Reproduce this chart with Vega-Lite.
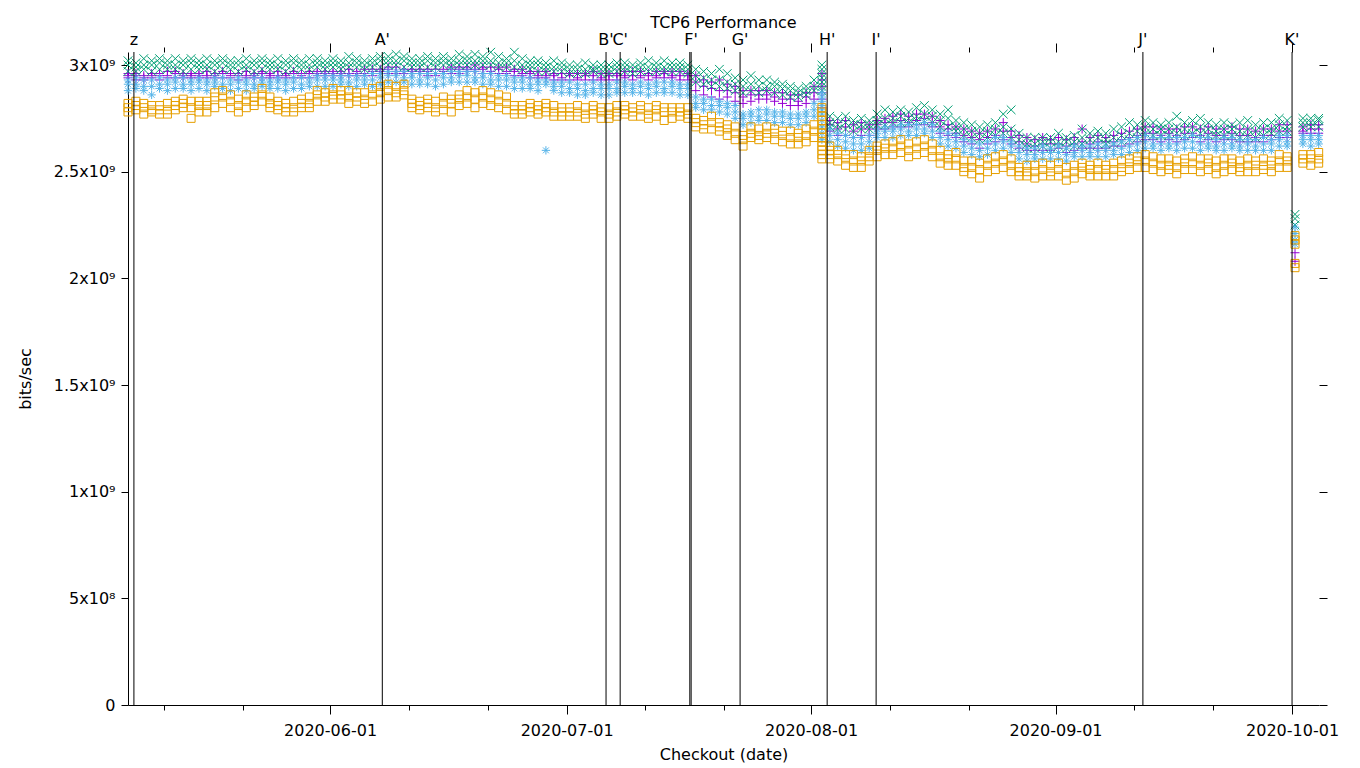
{
"$schema": "https://vega.github.io/schema/vega-lite/v6.json",
"width": 1191, "height": 653,
"autosize": {"type": "none"},
"padding": {"left": 128, "top": 52, "right": 41, "bottom": 63},
"background": "white",
"title": {"text": "TCP6 Performance", "fontSize": 16, "fontWeight": "normal", "font": "DejaVu Sans", "color": "black", "offset": 1},
"config": {"view": {"stroke": null}, "font": "DejaVu Sans",
  "axis": {"labelFont": "DejaVu Sans", "titleFont": "DejaVu Sans", "labelFontSize": 16, "titleFontSize": 16, "titleFontWeight": "normal", "labelColor": "black", "titleColor": "black", "tickColor": "black", "domainColor": "black", "grid": false, "labelFlush": false, "labelOverlap": false, "labelBound": false}},
"datasets": {
"runs": [
{"d":"2020-05-06T09:00Z","s1":[2.96e9,2.95e9,2.94e9],"s2":[3.02e9,3.00e9,2.97e9],"s3":[2.93e9,2.91e9,2.88e9],"s4":[2.82e9,2.80e9,2.78e9]},
{"d":"2020-05-07T09:00Z","s1":[2.96e9,2.95e9,2.93e9],"s2":[3.01e9,2.99e9,2.97e9],"s3":[2.94e9,2.91e9,2.89e9],"s4":[2.83e9,2.81e9,2.79e9]},
{"d":"2020-05-08T09:00Z","s1":[2.95e9,2.94e9,2.93e9],"s2":[3.03e9,3.00e9,2.98e9],"s3":[2.93e9,2.90e9,2.88e9],"s4":[2.82e9,2.80e9,2.77e9]},
{"d":"2020-05-09T09:00Z","s1":[2.96e9,2.95e9,2.94e9],"s2":[3.02e9,3.00e9,2.97e9],"s3":[2.93e9,2.90e9,2.86e9],"s4":[2.81e9,2.79e9,2.78e9]},
{"d":"2020-05-10T09:00Z","s1":[2.96e9,2.95e9,2.93e9],"s2":[3.03e9,3.01e9,2.98e9],"s3":[2.94e9,2.91e9,2.89e9],"s4":[2.81e9,2.79e9,2.77e9]},
{"d":"2020-05-11T09:00Z","s1":[2.97e9,2.95e9,2.94e9],"s2":[3.02e9,3.00e9,2.98e9],"s3":[2.93e9,2.91e9,2.88e9],"s4":[2.82e9,2.79e9,2.77e9]},
{"d":"2020-05-12T09:00Z","s1":[2.97e9,2.96e9,2.94e9],"s2":[3.03e9,3.00e9,2.98e9],"s3":[2.94e9,2.92e9,2.89e9],"s4":[2.83e9,2.81e9,2.79e9]},
{"d":"2020-05-13T09:00Z","s1":[2.96e9,2.95e9,2.94e9],"s2":[3.02e9,3.00e9,2.97e9],"s3":[2.94e9,2.91e9,2.89e9],"s4":[2.84e9,2.82e9,2.80e9]},
{"d":"2020-05-14T09:00Z","s1":[2.96e9,2.95e9,2.94e9],"s2":[3.03e9,3.01e9,2.98e9],"s3":[2.93e9,2.91e9,2.88e9],"s4":[2.83e9,2.80e9,2.75e9]},
{"d":"2020-05-15T09:00Z","s1":[2.96e9,2.95e9,2.94e9],"s2":[3.02e9,3.00e9,2.98e9],"s3":[2.94e9,2.92e9,2.89e9],"s4":[2.83e9,2.81e9,2.78e9]},
{"d":"2020-05-16T09:00Z","s1":[2.97e9,2.95e9,2.94e9],"s2":[3.03e9,3.00e9,2.98e9],"s3":[2.93e9,2.91e9,2.88e9],"s4":[2.83e9,2.81e9,2.78e9]},
{"d":"2020-05-17T09:00Z","s1":[2.96e9,2.95e9,2.94e9],"s2":[3.02e9,3.00e9,2.97e9],"s3":[2.94e9,2.92e9,2.90e9],"s4":[2.87e9,2.85e9,2.80e9]},
{"d":"2020-05-18T09:00Z","s1":[2.97e9,2.96e9,2.94e9],"s2":[3.03e9,3.01e9,2.98e9],"s3":[2.94e9,2.91e9,2.89e9],"s4":[2.88e9,2.85e9,2.82e9]},
{"d":"2020-05-19T09:00Z","s1":[2.96e9,2.95e9,2.94e9],"s2":[3.02e9,3.00e9,2.98e9],"s3":[2.93e9,2.91e9,2.88e9],"s4":[2.86e9,2.83e9,2.80e9]},
{"d":"2020-05-20T09:00Z","s1":[2.96e9,2.95e9,2.93e9],"s2":[3.02e9,3.00e9,2.97e9],"s3":[2.94e9,2.92e9,2.89e9],"s4":[2.84e9,2.81e9,2.78e9]},
{"d":"2020-05-21T09:00Z","s1":[2.97e9,2.95e9,2.94e9],"s2":[3.03e9,3.00e9,2.98e9],"s3":[2.93e9,2.91e9,2.88e9],"s4":[2.86e9,2.83e9,2.80e9]},
{"d":"2020-05-22T09:00Z","s1":[2.96e9,2.95e9,2.94e9],"s2":[3.02e9,3.00e9,2.97e9],"s3":[2.94e9,2.91e9,2.89e9],"s4":[2.85e9,2.83e9,2.81e9]},
{"d":"2020-05-23T09:00Z","s1":[2.97e9,2.96e9,2.94e9],"s2":[3.03e9,3.01e9,2.98e9],"s3":[2.94e9,2.92e9,2.90e9],"s4":[2.89e9,2.86e9,2.83e9]},
{"d":"2020-05-24T09:00Z","s1":[2.96e9,2.95e9,2.94e9],"s2":[3.02e9,3.00e9,2.98e9],"s3":[2.93e9,2.91e9,2.89e9],"s4":[2.85e9,2.82e9,2.80e9]},
{"d":"2020-05-25T09:00Z","s1":[2.97e9,2.95e9,2.94e9],"s2":[3.03e9,3.00e9,2.98e9],"s3":[2.94e9,2.92e9,2.89e9],"s4":[2.83e9,2.81e9,2.79e9]},
{"d":"2020-05-26T09:00Z","s1":[2.96e9,2.95e9,2.94e9],"s2":[3.02e9,3.00e9,2.97e9],"s3":[2.93e9,2.91e9,2.88e9],"s4":[2.82e9,2.80e9,2.78e9]},
{"d":"2020-05-27T09:00Z","s1":[2.97e9,2.96e9,2.94e9],"s2":[3.03e9,3.01e9,2.98e9],"s3":[2.94e9,2.92e9,2.89e9],"s4":[2.83e9,2.80e9,2.78e9]},
{"d":"2020-05-28T09:00Z","s1":[2.96e9,2.95e9,2.94e9],"s2":[3.02e9,3.00e9,2.98e9],"s3":[2.94e9,2.91e9,2.89e9],"s4":[2.84e9,2.82e9,2.80e9]},
{"d":"2020-05-29T09:00Z","s1":[2.97e9,2.96e9,2.94e9],"s2":[3.03e9,3.00e9,2.98e9],"s3":[2.94e9,2.92e9,2.90e9],"s4":[2.85e9,2.82e9,2.80e9]},
{"d":"2020-05-30T09:00Z","s1":[2.97e9,2.96e9,2.95e9],"s2":[3.03e9,3.01e9,2.99e9],"s3":[2.95e9,2.93e9,2.90e9],"s4":[2.88e9,2.86e9,2.83e9]},
{"d":"2020-05-31T09:00Z","s1":[2.97e9,2.96e9,2.95e9],"s2":[3.02e9,3.00e9,2.98e9],"s3":[2.95e9,2.93e9,2.90e9],"s4":[2.87e9,2.85e9,2.83e9]},
{"d":"2020-06-01T09:00Z","s1":[2.97e9,2.96e9,2.95e9],"s2":[3.03e9,3.01e9,2.99e9],"s3":[2.95e9,2.93e9,2.90e9],"s4":[2.89e9,2.86e9,2.84e9]},
{"d":"2020-06-02T09:00Z","s1":[2.97e9,2.96e9,2.95e9],"s2":[3.02e9,3.00e9,2.98e9],"s3":[2.95e9,2.93e9,2.91e9],"s4":[2.88e9,2.86e9,2.84e9]},
{"d":"2020-06-03T09:00Z","s1":[2.98e9,2.96e9,2.95e9],"s2":[3.04e9,3.01e9,2.99e9],"s3":[2.95e9,2.92e9,2.90e9],"s4":[2.88e9,2.85e9,2.82e9]},
{"d":"2020-06-04T09:00Z","s1":[2.97e9,2.96e9,2.95e9],"s2":[3.03e9,3.01e9,2.99e9],"s3":[2.95e9,2.93e9,2.90e9],"s4":[2.87e9,2.85e9,2.83e9]},
{"d":"2020-06-05T09:00Z","s1":[2.98e9,2.96e9,2.95e9],"s2":[3.02e9,3.00e9,2.98e9],"s3":[2.95e9,2.93e9,2.91e9],"s4":[2.87e9,2.84e9,2.82e9]},
{"d":"2020-06-06T09:00Z","s1":[2.98e9,2.97e9,2.95e9],"s2":[3.03e9,3.01e9,2.99e9],"s3":[2.96e9,2.93e9,2.90e9],"s4":[2.89e9,2.86e9,2.83e9]},
{"d":"2020-06-07T09:00Z","s1":[2.98e9,2.97e9,2.96e9],"s2":[3.04e9,3.02e9,2.99e9],"s3":[2.96e9,2.94e9,2.91e9],"s4":[2.90e9,2.87e9,2.84e9]},
{"d":"2020-06-08T09:00Z","s1":[2.99e9,2.98e9,2.96e9],"s2":[3.04e9,3.02e9,3.00e9],"s3":[2.97e9,2.95e9,2.92e9],"s4":[2.91e9,2.88e9,2.85e9]},
{"d":"2020-06-09T09:00Z","s1":[2.99e9,2.97e9,2.96e9],"s2":[3.05e9,3.02e9,3.00e9],"s3":[2.97e9,2.95e9,2.92e9],"s4":[2.90e9,2.87e9,2.85e9]},
{"d":"2020-06-10T09:00Z","s1":[2.98e9,2.97e9,2.96e9],"s2":[3.04e9,3.02e9,2.99e9],"s3":[2.97e9,2.94e9,2.92e9],"s4":[2.91e9,2.88e9,2.86e9]},
{"d":"2020-06-11T09:00Z","s1":[2.98e9,2.97e9,2.96e9],"s2":[3.03e9,3.01e9,2.99e9],"s3":[2.96e9,2.94e9,2.91e9],"s4":[2.84e9,2.82e9,2.80e9]},
{"d":"2020-06-12T09:00Z","s1":[2.98e9,2.97e9,2.96e9],"s2":[3.03e9,3.01e9,2.99e9],"s3":[2.96e9,2.93e9,2.91e9],"s4":[2.83e9,2.81e9,2.79e9]},
{"d":"2020-06-13T09:00Z","s1":[2.98e9,2.97e9,2.95e9],"s2":[3.04e9,3.02e9,2.99e9],"s3":[2.96e9,2.94e9,2.91e9],"s4":[2.84e9,2.82e9,2.80e9]},
{"d":"2020-06-14T09:00Z","s1":[2.98e9,2.96e9,2.95e9],"s2":[3.03e9,3.01e9,2.99e9],"s3":[2.96e9,2.93e9,2.90e9],"s4":[2.83e9,2.80e9,2.78e9]},
{"d":"2020-06-15T09:00Z","s1":[2.98e9,2.97e9,2.96e9],"s2":[3.04e9,3.02e9,3.00e9],"s3":[2.96e9,2.94e9,2.91e9],"s4":[2.85e9,2.82e9,2.79e9]},
{"d":"2020-06-16T09:00Z","s1":[2.99e9,2.98e9,2.96e9],"s2":[3.03e9,3.01e9,2.99e9],"s3":[2.97e9,2.94e9,2.92e9],"s4":[2.84e9,2.82e9,2.78e9]},
{"d":"2020-06-17T09:00Z","s1":[2.99e9,2.98e9,2.96e9],"s2":[3.05e9,3.02e9,3.00e9],"s3":[2.97e9,2.95e9,2.92e9],"s4":[2.86e9,2.84e9,2.81e9]},
{"d":"2020-06-18T09:00Z","s1":[2.99e9,2.98e9,2.97e9],"s2":[3.04e9,3.02e9,3.00e9],"s3":[2.97e9,2.95e9,2.92e9],"s4":[2.88e9,2.85e9,2.82e9]},
{"d":"2020-06-19T09:00Z","s1":[3.00e9,2.98e9,2.97e9],"s2":[3.05e9,3.02e9,3.00e9],"s3":[2.97e9,2.94e9,2.92e9],"s4":[2.87e9,2.84e9,2.80e9]},
{"d":"2020-06-20T09:00Z","s1":[2.99e9,2.98e9,2.96e9],"s2":[3.04e9,3.02e9,3.00e9],"s3":[2.96e9,2.94e9,2.91e9],"s4":[2.88e9,2.85e9,2.82e9]},
{"d":"2020-06-21T09:00Z","s1":[2.99e9,2.97e9,2.96e9],"s2":[3.06e9,3.02e9,3.00e9],"s3":[2.96e9,2.93e9,2.91e9],"s4":[2.87e9,2.84e9,2.81e9]},
{"d":"2020-06-22T09:00Z","s1":[2.99e9,2.98e9,2.96e9],"s2":[3.04e9,3.01e9,2.99e9],"s3":[2.95e9,2.93e9,2.90e9],"s4":[2.86e9,2.83e9,2.80e9]},
{"d":"2020-06-23T09:00Z","s1":[2.99e9,2.97e9,2.96e9],"s2":[3.03e9,3.01e9,2.99e9],"s3":[2.95e9,2.93e9,2.90e9],"s4":[2.85e9,2.82e9,2.79e9]},
{"d":"2020-06-24T09:00Z","s1":[2.98e9,2.97e9,2.95e9],"s2":[3.06e9,3.02e9,2.99e9],"s3":[2.94e9,2.92e9,2.89e9],"s4":[2.81e9,2.79e9,2.77e9]},
{"d":"2020-06-25T09:00Z","s1":[2.98e9,2.96e9,2.95e9],"s2":[3.03e9,3.00e9,2.98e9],"s3":[2.94e9,2.92e9,2.89e9],"s4":[2.81e9,2.79e9,2.77e9]},
{"d":"2020-06-26T09:00Z","s1":[2.97e9,2.96e9,2.94e9],"s2":[3.02e9,3.00e9,2.98e9],"s3":[2.94e9,2.91e9,2.89e9],"s4":[2.82e9,2.80e9,2.78e9]},
{"d":"2020-06-27T09:00Z","s1":[2.97e9,2.95e9,2.94e9],"s2":[3.02e9,3.00e9,2.97e9],"s3":[2.93e9,2.91e9,2.88e9],"s4":[2.81e9,2.79e9,2.77e9]},
{"d":"2020-06-28T09:00Z","s1":[2.97e9,2.95e9,2.94e9],"s2":[3.01e9,2.99e9,2.97e9],"s3":[2.93e9,2.91e9,2.60e9],"s4":[2.82e9,2.80e9,2.78e9]},
{"d":"2020-06-29T09:00Z","s1":[2.96e9,2.95e9,2.93e9],"s2":[3.02e9,2.99e9,2.97e9],"s3":[2.92e9,2.90e9,2.88e9],"s4":[2.81e9,2.78e9,2.76e9]},
{"d":"2020-06-30T09:00Z","s1":[2.96e9,2.94e9,2.93e9],"s2":[3.01e9,2.99e9,2.97e9],"s3":[2.92e9,2.90e9,2.87e9],"s4":[2.80e9,2.78e9,2.76e9]},
{"d":"2020-07-01T09:00Z","s1":[2.96e9,2.95e9,2.93e9],"s2":[3.00e9,2.98e9,2.96e9],"s3":[2.92e9,2.89e9,2.87e9],"s4":[2.80e9,2.78e9,2.76e9]},
{"d":"2020-07-02T09:00Z","s1":[2.96e9,2.94e9,2.93e9],"s2":[3.00e9,2.98e9,2.96e9],"s3":[2.91e9,2.89e9,2.86e9],"s4":[2.81e9,2.78e9,2.76e9]},
{"d":"2020-07-03T09:00Z","s1":[2.96e9,2.95e9,2.93e9],"s2":[3.01e9,2.98e9,2.96e9],"s3":[2.91e9,2.88e9,2.86e9],"s4":[2.80e9,2.77e9,2.75e9]},
{"d":"2020-07-04T09:00Z","s1":[2.97e9,2.95e9,2.93e9],"s2":[3.00e9,2.98e9,2.97e9],"s3":[2.92e9,2.89e9,2.87e9],"s4":[2.81e9,2.79e9,2.77e9]},
{"d":"2020-07-05T09:00Z","s1":[2.96e9,2.94e9,2.93e9],"s2":[3.00e9,2.98e9,2.96e9],"s3":[2.91e9,2.89e9,2.86e9],"s4":[2.80e9,2.78e9,2.75e9]},
{"d":"2020-07-06T09:00Z","s1":[2.96e9,2.95e9,2.93e9],"s2":[3.00e9,2.98e9,2.96e9],"s3":[2.91e9,2.89e9,2.86e9],"s4":[2.80e9,2.77e9,2.75e9]},
{"d":"2020-07-07T09:00Z","s1":[2.96e9,2.95e9,2.93e9],"s2":[3.01e9,2.99e9,2.97e9],"s3":[2.92e9,2.89e9,2.87e9],"s4":[2.81e9,2.78e9,2.76e9]},
{"d":"2020-07-08T09:00Z","s1":[2.97e9,2.95e9,2.94e9],"s2":[3.01e9,2.99e9,2.97e9],"s3":[2.92e9,2.90e9,2.87e9],"s4":[2.81e9,2.79e9,2.77e9]},
{"d":"2020-07-09T09:00Z","s1":[2.97e9,2.95e9,2.93e9],"s2":[3.00e9,2.98e9,2.96e9],"s3":[2.91e9,2.89e9,2.87e9],"s4":[2.80e9,2.78e9,2.76e9]},
{"d":"2020-07-10T09:00Z","s1":[2.97e9,2.95e9,2.94e9],"s2":[3.01e9,2.99e9,2.97e9],"s3":[2.92e9,2.90e9,2.87e9],"s4":[2.81e9,2.79e9,2.76e9]},
{"d":"2020-07-11T09:00Z","s1":[2.96e9,2.95e9,2.93e9],"s2":[3.02e9,2.99e9,2.97e9],"s3":[2.91e9,2.89e9,2.86e9],"s4":[2.80e9,2.77e9,2.75e9]},
{"d":"2020-07-12T09:00Z","s1":[2.97e9,2.95e9,2.94e9],"s2":[3.01e9,2.99e9,2.97e9],"s3":[2.92e9,2.90e9,2.87e9],"s4":[2.81e9,2.79e9,2.76e9]},
{"d":"2020-07-13T09:00Z","s1":[2.97e9,2.96e9,2.94e9],"s2":[3.02e9,2.99e9,2.97e9],"s3":[2.92e9,2.89e9,2.87e9],"s4":[2.80e9,2.78e9,2.74e9]},
{"d":"2020-07-14T09:00Z","s1":[2.97e9,2.95e9,2.94e9],"s2":[3.01e9,2.99e9,2.97e9],"s3":[2.92e9,2.90e9,2.87e9],"s4":[2.80e9,2.78e9,2.75e9]},
{"d":"2020-07-15T09:00Z","s1":[2.97e9,2.95e9,2.93e9],"s2":[3.01e9,2.99e9,2.97e9],"s3":[2.91e9,2.89e9,2.86e9],"s4":[2.80e9,2.78e9,2.76e9]},
{"d":"2020-07-16T09:00Z","s1":[2.96e9,2.95e9,2.93e9],"s2":[3.00e9,2.98e9,2.96e9],"s3":[2.91e9,2.89e9,2.86e9],"s4":[2.80e9,2.77e9,2.75e9]},
{"d":"2020-07-17T09:00Z","s1":[2.95e9,2.92e9,2.88e9],"s2":[2.98e9,2.95e9,2.92e9],"s3":[2.85e9,2.82e9,2.80e9],"s4":[2.75e9,2.73e9,2.71e9]},
{"d":"2020-07-18T09:00Z","s1":[2.93e9,2.90e9,2.86e9],"s2":[2.97e9,2.94e9,2.91e9],"s3":[2.84e9,2.82e9,2.79e9],"s4":[2.74e9,2.72e9,2.70e9]},
{"d":"2020-07-19T09:00Z","s1":[2.92e9,2.89e9,2.85e9],"s2":[2.96e9,2.93e9,2.90e9],"s3":[2.84e9,2.81e9,2.79e9],"s4":[2.76e9,2.73e9,2.70e9]},
{"d":"2020-07-20T09:00Z","s1":[2.93e9,2.88e9,2.84e9],"s2":[2.98e9,2.93e9,2.90e9],"s3":[2.83e9,2.81e9,2.78e9],"s4":[2.73e9,2.71e9,2.69e9]},
{"d":"2020-07-21T09:00Z","s1":[2.91e9,2.88e9,2.85e9],"s2":[2.96e9,2.92e9,2.89e9],"s3":[2.82e9,2.80e9,2.77e9],"s4":[2.72e9,2.70e9,2.67e9]},
{"d":"2020-07-22T09:00Z","s1":[2.90e9,2.87e9,2.83e9],"s2":[2.94e9,2.91e9,2.88e9],"s3":[2.81e9,2.78e9,2.75e9],"s4":[2.71e9,2.68e9,2.65e9]},
{"d":"2020-07-23T09:00Z","s1":[2.88e9,2.85e9,2.82e9],"s2":[2.93e9,2.90e9,2.87e9],"s3":[2.77e9,2.75e9,2.72e9],"s4":[2.67e9,2.65e9,2.62e9]},
{"d":"2020-07-24T09:00Z","s1":[2.88e9,2.86e9,2.83e9],"s2":[2.95e9,2.91e9,2.88e9],"s3":[2.78e9,2.76e9,2.73e9],"s4":[2.71e9,2.68e9,2.66e9]},
{"d":"2020-07-25T09:00Z","s1":[2.88e9,2.86e9,2.84e9],"s2":[2.93e9,2.90e9,2.87e9],"s3":[2.79e9,2.76e9,2.74e9],"s4":[2.70e9,2.67e9,2.65e9]},
{"d":"2020-07-26T09:00Z","s1":[2.88e9,2.86e9,2.84e9],"s2":[2.93e9,2.90e9,2.88e9],"s3":[2.79e9,2.77e9,2.74e9],"s4":[2.71e9,2.68e9,2.66e9]},
{"d":"2020-07-27T09:00Z","s1":[2.87e9,2.85e9,2.83e9],"s2":[2.92e9,2.90e9,2.87e9],"s3":[2.78e9,2.76e9,2.73e9],"s4":[2.70e9,2.68e9,2.65e9]},
{"d":"2020-07-28T09:00Z","s1":[2.87e9,2.84e9,2.82e9],"s2":[2.91e9,2.89e9,2.86e9],"s3":[2.78e9,2.76e9,2.73e9],"s4":[2.69e9,2.67e9,2.64e9]},
{"d":"2020-07-29T09:00Z","s1":[2.86e9,2.84e9,2.81e9],"s2":[2.90e9,2.88e9,2.85e9],"s3":[2.77e9,2.75e9,2.72e9],"s4":[2.69e9,2.66e9,2.63e9]},
{"d":"2020-07-30T09:00Z","s1":[2.86e9,2.83e9,2.81e9],"s2":[2.89e9,2.87e9,2.85e9],"s3":[2.77e9,2.75e9,2.72e9],"s4":[2.68e9,2.66e9,2.63e9]},
{"d":"2020-07-31T09:00Z","s1":[2.87e9,2.85e9,2.82e9],"s2":[2.90e9,2.88e9,2.86e9],"s3":[2.78e9,2.76e9,2.73e9],"s4":[2.70e9,2.67e9,2.64e9]},
{"d":"2020-08-01T09:00Z","s1":[2.90e9,2.87e9,2.84e9],"s2":[2.93e9,2.90e9,2.88e9],"s3":[2.82e9,2.79e9,2.76e9],"s4":[2.72e9,2.69e9,2.66e9]},
{"d":"2020-08-02T09:00Z","s1":[2.96e9,2.93e9,2.90e9,2.87e9,2.84e9,2.80e9],"s2":[3.00e9,2.98e9,2.96e9,2.94e9,2.92e9,2.90e9,2.88e9],"s3":[2.87e9,2.85e9,2.83e9,2.81e9,2.79e9,2.77e9,2.74e9,2.71e9,2.68e9,2.65e9],"s4":[2.80e9,2.78e9,2.76e9,2.74e9,2.72e9,2.70e9,2.68e9,2.66e9,2.64e9,2.62e9,2.60e9,2.58e9,2.56e9]},
{"d":"2020-08-03T09:00Z","s1":[2.74e9,2.72e9,2.69e9],"s2":[2.76e9,2.73e9,2.71e9],"s3":[2.70e9,2.67e9,2.64e9],"s4":[2.62e9,2.60e9,2.58e9,2.56e9]},
{"d":"2020-08-04T09:00Z","s1":[2.73e9,2.70e9,2.67e9],"s2":[2.75e9,2.72e9,2.70e9],"s3":[2.68e9,2.65e9,2.62e9],"s4":[2.60e9,2.58e9,2.55e9]},
{"d":"2020-08-05T09:00Z","s1":[2.74e9,2.71e9,2.67e9],"s2":[2.76e9,2.73e9,2.70e9],"s3":[2.67e9,2.64e9,2.61e9],"s4":[2.58e9,2.56e9,2.53e9]},
{"d":"2020-08-06T09:00Z","s1":[2.72e9,2.69e9,2.66e9],"s2":[2.74e9,2.72e9,2.69e9],"s3":[2.66e9,2.63e9,2.60e9],"s4":[2.58e9,2.55e9,2.52e9]},
{"d":"2020-08-07T09:00Z","s1":[2.73e9,2.70e9,2.67e9],"s2":[2.75e9,2.72e9,2.70e9],"s3":[2.66e9,2.63e9,2.60e9],"s4":[2.57e9,2.55e9,2.52e9]},
{"d":"2020-08-08T09:00Z","s1":[2.72e9,2.70e9,2.67e9],"s2":[2.74e9,2.72e9,2.70e9],"s3":[2.67e9,2.64e9,2.61e9],"s4":[2.60e9,2.57e9,2.55e9]},
{"d":"2020-08-09T09:00Z","s1":[2.74e9,2.72e9,2.70e9],"s2":[2.77e9,2.74e9,2.72e9],"s3":[2.70e9,2.68e9,2.66e9],"s4":[2.62e9,2.60e9,2.57e9]},
{"d":"2020-08-10T09:00Z","s1":[2.75e9,2.73e9,2.70e9],"s2":[2.79e9,2.75e9,2.72e9],"s3":[2.71e9,2.69e9,2.66e9],"s4":[2.63e9,2.61e9,2.58e9]},
{"d":"2020-08-11T09:00Z","s1":[2.76e9,2.73e9,2.71e9],"s2":[2.78e9,2.75e9,2.73e9],"s3":[2.71e9,2.69e9,2.66e9],"s4":[2.64e9,2.61e9,2.58e9]},
{"d":"2020-08-12T09:00Z","s1":[2.77e9,2.74e9,2.71e9],"s2":[2.79e9,2.76e9,2.73e9],"s3":[2.72e9,2.70e9,2.67e9],"s4":[2.65e9,2.62e9,2.59e9]},
{"d":"2020-08-13T09:00Z","s1":[2.76e9,2.73e9,2.71e9],"s2":[2.78e9,2.75e9,2.73e9],"s3":[2.72e9,2.69e9,2.67e9],"s4":[2.63e9,2.60e9,2.57e9]},
{"d":"2020-08-14T09:00Z","s1":[2.77e9,2.74e9,2.72e9],"s2":[2.80e9,2.76e9,2.74e9],"s3":[2.72e9,2.70e9,2.67e9],"s4":[2.64e9,2.61e9,2.58e9]},
{"d":"2020-08-15T09:00Z","s1":[2.77e9,2.75e9,2.72e9],"s2":[2.81e9,2.77e9,2.74e9],"s3":[2.73e9,2.70e9,2.68e9],"s4":[2.65e9,2.62e9,2.59e9]},
{"d":"2020-08-16T09:00Z","s1":[2.76e9,2.73e9,2.71e9],"s2":[2.79e9,2.76e9,2.73e9],"s3":[2.72e9,2.69e9,2.66e9],"s4":[2.63e9,2.60e9,2.57e9]},
{"d":"2020-08-17T09:00Z","s1":[2.74e9,2.71e9,2.68e9],"s2":[2.77e9,2.74e9,2.71e9],"s3":[2.69e9,2.66e9,2.63e9],"s4":[2.60e9,2.57e9,2.54e9]},
{"d":"2020-08-18T09:00Z","s1":[2.72e9,2.70e9,2.67e9],"s2":[2.79e9,2.75e9,2.71e9],"s3":[2.68e9,2.65e9,2.62e9],"s4":[2.58e9,2.56e9,2.53e9]},
{"d":"2020-08-19T09:00Z","s1":[2.71e9,2.68e9,2.66e9],"s2":[2.74e9,2.71e9,2.69e9],"s3":[2.67e9,2.64e9,2.61e9],"s4":[2.59e9,2.56e9,2.53e9]},
{"d":"2020-08-20T09:00Z","s1":[2.70e9,2.67e9,2.64e9],"s2":[2.73e9,2.70e9,2.67e9],"s3":[2.65e9,2.62e9,2.59e9],"s4":[2.55e9,2.52e9,2.50e9]},
{"d":"2020-08-21T09:00Z","s1":[2.69e9,2.66e9,2.63e9],"s2":[2.72e9,2.69e9,2.66e9],"s3":[2.64e9,2.61e9,2.58e9],"s4":[2.55e9,2.52e9,2.49e9]},
{"d":"2020-08-22T09:00Z","s1":[2.68e9,2.65e9,2.61e9],"s2":[2.71e9,2.68e9,2.65e9],"s3":[2.63e9,2.60e9,2.57e9],"s4":[2.54e9,2.51e9,2.47e9]},
{"d":"2020-08-23T09:00Z","s1":[2.69e9,2.66e9,2.63e9],"s2":[2.72e9,2.69e9,2.66e9],"s3":[2.64e9,2.61e9,2.58e9],"s4":[2.56e9,2.53e9,2.50e9]},
{"d":"2020-08-24T09:00Z","s1":[2.70e9,2.67e9,2.64e9],"s2":[2.73e9,2.70e9,2.67e9],"s3":[2.66e9,2.63e9,2.60e9],"s4":[2.57e9,2.54e9,2.51e9]},
{"d":"2020-08-25T09:00Z","s1":[2.73e9,2.69e9,2.65e9],"s2":[2.77e9,2.71e9,2.68e9],"s3":[2.66e9,2.64e9,2.61e9],"s4":[2.58e9,2.55e9,2.52e9]},
{"d":"2020-08-26T09:00Z","s1":[2.69e9,2.66e9,2.63e9],"s2":[2.79e9,2.70e9,2.66e9],"s3":[2.64e9,2.62e9,2.59e9],"s4":[2.56e9,2.53e9,2.50e9]},
{"d":"2020-08-27T09:00Z","s1":[2.67e9,2.64e9,2.61e9],"s2":[2.68e9,2.65e9,2.62e9],"s3":[2.62e9,2.59e9,2.56e9],"s4":[2.52e9,2.50e9,2.48e9]},
{"d":"2020-08-28T09:00Z","s1":[2.66e9,2.63e9,2.60e9],"s2":[2.66e9,2.63e9,2.61e9],"s3":[2.61e9,2.58e9,2.55e9],"s4":[2.53e9,2.50e9,2.48e9]},
{"d":"2020-08-29T09:00Z","s1":[2.65e9,2.62e9,2.60e9],"s2":[2.66e9,2.63e9,2.61e9],"s3":[2.61e9,2.58e9,2.56e9],"s4":[2.53e9,2.50e9,2.47e9]},
{"d":"2020-08-30T09:00Z","s1":[2.66e9,2.63e9,2.60e9],"s2":[2.66e9,2.64e9,2.62e9],"s3":[2.62e9,2.59e9,2.56e9],"s4":[2.54e9,2.51e9,2.48e9]},
{"d":"2020-08-31T09:00Z","s1":[2.65e9,2.63e9,2.60e9],"s2":[2.66e9,2.64e9,2.61e9],"s3":[2.61e9,2.59e9,2.56e9],"s4":[2.53e9,2.50e9,2.48e9]},
{"d":"2020-09-01T09:00Z","s1":[2.66e9,2.63e9,2.61e9],"s2":[2.68e9,2.64e9,2.62e9],"s3":[2.62e9,2.59e9,2.56e9],"s4":[2.54e9,2.51e9,2.48e9]},
{"d":"2020-09-02T09:00Z","s1":[2.65e9,2.62e9,2.59e9],"s2":[2.66e9,2.64e9,2.61e9],"s3":[2.61e9,2.58e9,2.55e9],"s4":[2.52e9,2.49e9,2.46e9]},
{"d":"2020-09-03T09:00Z","s1":[2.66e9,2.63e9,2.60e9],"s2":[2.67e9,2.64e9,2.62e9],"s3":[2.62e9,2.59e9,2.57e9],"s4":[2.53e9,2.50e9,2.47e9]},
{"d":"2020-09-04T09:00Z","s1":[2.70e9,2.64e9,2.61e9],"s2":[2.70e9,2.66e9,2.63e9],"s3":[2.62e9,2.60e9,2.57e9],"s4":[2.54e9,2.52e9,2.49e9]},
{"d":"2020-09-05T09:00Z","s1":[2.66e9,2.63e9,2.61e9],"s2":[2.68e9,2.65e9,2.62e9],"s3":[2.62e9,2.59e9,2.57e9],"s4":[2.53e9,2.51e9,2.48e9]},
{"d":"2020-09-06T09:00Z","s1":[2.67e9,2.64e9,2.61e9],"s2":[2.69e9,2.66e9,2.63e9],"s3":[2.63e9,2.60e9,2.57e9],"s4":[2.54e9,2.51e9,2.48e9]},
{"d":"2020-09-07T09:00Z","s1":[2.66e9,2.64e9,2.61e9],"s2":[2.68e9,2.65e9,2.63e9],"s3":[2.62e9,2.60e9,2.57e9],"s4":[2.53e9,2.51e9,2.48e9]},
{"d":"2020-09-08T09:00Z","s1":[2.67e9,2.64e9,2.62e9],"s2":[2.70e9,2.66e9,2.63e9],"s3":[2.63e9,2.60e9,2.58e9],"s4":[2.54e9,2.51e9,2.48e9]},
{"d":"2020-09-09T09:00Z","s1":[2.68e9,2.65e9,2.62e9],"s2":[2.71e9,2.67e9,2.64e9],"s3":[2.64e9,2.61e9,2.58e9],"s4":[2.55e9,2.52e9,2.50e9]},
{"d":"2020-09-10T09:00Z","s1":[2.69e9,2.66e9,2.63e9],"s2":[2.73e9,2.68e9,2.65e9],"s3":[2.65e9,2.62e9,2.59e9],"s4":[2.56e9,2.54e9,2.51e9]},
{"d":"2020-09-11T09:00Z","s1":[2.70e9,2.67e9,2.64e9],"s2":[2.72e9,2.69e9,2.66e9],"s3":[2.66e9,2.63e9,2.60e9],"s4":[2.57e9,2.55e9,2.52e9]},
{"d":"2020-09-12T09:00Z","s1":[2.71e9,2.68e9,2.65e9],"s2":[2.74e9,2.71e9,2.68e9],"s3":[2.67e9,2.64e9,2.61e9],"s4":[2.58e9,2.55e9,2.52e9]},
{"d":"2020-09-13T09:00Z","s1":[2.71e9,2.68e9,2.65e9],"s2":[2.73e9,2.70e9,2.67e9],"s3":[2.66e9,2.63e9,2.61e9],"s4":[2.57e9,2.54e9,2.51e9]},
{"d":"2020-09-14T09:00Z","s1":[2.70e9,2.67e9,2.64e9],"s2":[2.72e9,2.70e9,2.67e9],"s3":[2.66e9,2.63e9,2.60e9],"s4":[2.56e9,2.53e9,2.50e9]},
{"d":"2020-09-15T09:00Z","s1":[2.70e9,2.68e9,2.65e9],"s2":[2.73e9,2.70e9,2.67e9],"s3":[2.66e9,2.63e9,2.61e9],"s4":[2.56e9,2.53e9,2.51e9]},
{"d":"2020-09-16T09:00Z","s1":[2.70e9,2.67e9,2.64e9],"s2":[2.76e9,2.71e9,2.68e9],"s3":[2.66e9,2.63e9,2.60e9],"s4":[2.55e9,2.52e9,2.49e9]},
{"d":"2020-09-17T09:00Z","s1":[2.71e9,2.68e9,2.65e9],"s2":[2.73e9,2.70e9,2.67e9],"s3":[2.66e9,2.64e9,2.61e9],"s4":[2.56e9,2.54e9,2.51e9]},
{"d":"2020-09-18T09:00Z","s1":[2.71e9,2.68e9,2.66e9],"s2":[2.74e9,2.71e9,2.68e9],"s3":[2.67e9,2.64e9,2.61e9],"s4":[2.57e9,2.54e9,2.51e9]},
{"d":"2020-09-19T09:00Z","s1":[2.70e9,2.67e9,2.64e9],"s2":[2.75e9,2.71e9,2.68e9],"s3":[2.66e9,2.63e9,2.60e9],"s4":[2.56e9,2.53e9,2.50e9]},
{"d":"2020-09-20T09:00Z","s1":[2.71e9,2.68e9,2.65e9],"s2":[2.73e9,2.70e9,2.67e9],"s3":[2.66e9,2.63e9,2.61e9],"s4":[2.56e9,2.54e9,2.51e9]},
{"d":"2020-09-21T09:00Z","s1":[2.70e9,2.67e9,2.64e9],"s2":[2.72e9,2.69e9,2.67e9],"s3":[2.65e9,2.62e9,2.60e9],"s4":[2.55e9,2.52e9,2.49e9]},
{"d":"2020-09-22T09:00Z","s1":[2.70e9,2.67e9,2.65e9],"s2":[2.73e9,2.70e9,2.67e9],"s3":[2.66e9,2.63e9,2.60e9],"s4":[2.56e9,2.53e9,2.50e9]},
{"d":"2020-09-23T09:00Z","s1":[2.71e9,2.68e9,2.65e9],"s2":[2.72e9,2.70e9,2.67e9],"s3":[2.66e9,2.63e9,2.61e9],"s4":[2.56e9,2.54e9,2.51e9]},
{"d":"2020-09-24T09:00Z","s1":[2.70e9,2.67e9,2.64e9],"s2":[2.73e9,2.69e9,2.66e9],"s3":[2.65e9,2.62e9,2.60e9],"s4":[2.55e9,2.52e9,2.50e9]},
{"d":"2020-09-25T09:00Z","s1":[2.70e9,2.67e9,2.64e9],"s2":[2.74e9,2.70e9,2.67e9],"s3":[2.65e9,2.63e9,2.60e9],"s4":[2.56e9,2.53e9,2.50e9]},
{"d":"2020-09-26T09:00Z","s1":[2.69e9,2.66e9,2.64e9],"s2":[2.72e9,2.69e9,2.66e9],"s3":[2.65e9,2.62e9,2.60e9],"s4":[2.55e9,2.53e9,2.50e9]},
{"d":"2020-09-27T09:00Z","s1":[2.70e9,2.67e9,2.64e9],"s2":[2.73e9,2.70e9,2.67e9],"s3":[2.66e9,2.63e9,2.60e9],"s4":[2.56e9,2.53e9,2.51e9]},
{"d":"2020-09-28T09:00Z","s1":[2.70e9,2.67e9,2.65e9],"s2":[2.73e9,2.70e9,2.68e9],"s3":[2.65e9,2.63e9,2.60e9],"s4":[2.55e9,2.53e9,2.50e9]},
{"d":"2020-09-29T09:00Z","s1":[2.72e9,2.69e9,2.66e9],"s2":[2.75e9,2.72e9,2.69e9],"s3":[2.67e9,2.65e9,2.62e9],"s4":[2.58e9,2.55e9,2.52e9]},
{"d":"2020-09-30T09:00Z","s1":[2.72e9,2.69e9,2.66e9],"s2":[2.74e9,2.71e9,2.69e9],"s3":[2.67e9,2.64e9,2.62e9],"s4":[2.57e9,2.55e9,2.52e9]},
{"d":"2020-10-01T09:00Z","s1":[2.12e9,2.08e9],"s2":[2.30e9,2.28e9,2.25e9],"s3":[2.24e9,2.21e9,2.18e9,2.16e9],"s4":[2.20e9,2.18e9,2.16e9,2.07e9,2.05e9]},
{"d":"2020-10-02T09:00Z","s1":[2.71e9,2.69e9,2.68e9],"s2":[2.75e9,2.73e9,2.71e9],"s3":[2.67e9,2.65e9,2.63e9],"s4":[2.58e9,2.56e9,2.54e9]},
{"d":"2020-10-03T09:00Z","s1":[2.72e9,2.70e9,2.68e9],"s2":[2.75e9,2.73e9,2.71e9],"s3":[2.67e9,2.65e9,2.62e9],"s4":[2.58e9,2.56e9,2.53e9]},
{"d":"2020-10-04T09:00Z","s1":[2.72e9,2.70e9,2.68e9],"s2":[2.75e9,2.74e9,2.71e9],"s3":[2.67e9,2.65e9,2.63e9],"s4":[2.59e9,2.56e9,2.54e9]}
],
"events": [
{"d":"2020-05-07T03:00Z","l":"z"},
{"d":"2020-06-07T15:00Z","l":"A'"},
{"d":"2020-07-06T00:00Z","l":"B'"},
{"d":"2020-07-07T19:00Z","l":"C'"},
{"d":"2020-07-16T15:00Z","l":""},
{"d":"2020-07-16T19:00Z","l":"F'"},
{"d":"2020-07-23T00:00Z","l":"G'"},
{"d":"2020-08-03T01:00Z","l":"H'"},
{"d":"2020-08-09T06:00Z","l":"I'"},
{"d":"2020-09-12T02:00Z","l":"J'"},
{"d":"2020-10-01T00:00Z","l":"K'"}
]
},
"resolve": {"axis": {"x": "independent", "y": "independent"}},
"layer": [
{
"data": {"name": "runs"},
"transform": [{"fold": ["s1", "s2", "s3", "s4"], "as": ["series", "vals"]}, {"flatten": ["vals"], "as": ["bps"]}],
"mark": {"type": "point", "filled": false, "strokeWidth": 1, "opacity": 1},
"encoding": {
"x": {"field": "d", "type": "temporal",
  "scale": {"type": "utc", "domain": [{"year": 2020, "month": 5, "date": 6, "hours": 9, "utc": true}, {"year": 2020, "month": 10, "date": 4, "hours": 10, "utc": true}]},
  "axis": {"orient": "bottom", "title": "Checkout (date)",
    "values": [{"year":2020,"month":5,"date":11,"utc":true},{"year":2020,"month":5,"date":21,"utc":true},{"year":2020,"month":6,"date":1,"utc":true},{"year":2020,"month":6,"date":11,"utc":true},{"year":2020,"month":6,"date":21,"utc":true},{"year":2020,"month":7,"date":1,"utc":true},{"year":2020,"month":7,"date":11,"utc":true},{"year":2020,"month":7,"date":21,"utc":true},{"year":2020,"month":8,"date":1,"utc":true},{"year":2020,"month":8,"date":11,"utc":true},{"year":2020,"month":8,"date":21,"utc":true},{"year":2020,"month":9,"date":1,"utc":true},{"year":2020,"month":9,"date":11,"utc":true},{"year":2020,"month":9,"date":21,"utc":true},{"year":2020,"month":10,"date":1,"utc":true}],
    "labelExpr": "utcdate(datum.value) == 1 ? utcFormat(datum.value, '%Y-%m-%d') : ''",
    "tickSize": {"condition": {"test": "utcdate(datum.value) == 1", "value": 9}, "value": 5},
    "labelPadding": 8, "titlePadding": 8}},
"y": {"field": "bps", "type": "quantitative",
  "scale": {"domain": [0, 3061000000], "nice": false},
  "axis": {"orient": "left", "title": "bits/sec", "values": [0, 500000000, 1000000000, 1500000000, 2000000000, 2500000000, 3000000000],
    "labelExpr": "datum.value == 0 ? '0' : (datum.value < 1000000000 ? (datum.value / 100000000) + 'x10⁸' : (datum.value / 1000000000) + 'x10⁹')",
    "tickSize": 7, "labelPadding": 6, "titlePadding": 20}},
"color": {"field": "series", "type": "nominal", "scale": {"domain": ["s1", "s2", "s3", "s4"], "range": ["#9400d3", "#009e73", "#56b4e9", "#e69f00"]}, "legend": null},
"shape": {"field": "series", "type": "nominal", "scale": {"domain": ["s1", "s2", "s3", "s4"], "range": ["M-1,0L1,0M0,-1L0,1", "M-1,-1L1,1M-1,1L1,-1", "M-1,0L1,0M0,-1L0,1M-0.7,-0.7L0.7,0.7M-0.7,0.7L0.7,-0.7", "square"]}, "legend": null},
"size": {"field": "series", "type": "nominal", "scale": {"domain": ["s1", "s2", "s3", "s4"], "range": [81, 64, 64, 49]}, "legend": null},
"order": {"field": "series"}
}
},
{
"data": {"name": "events"},
"mark": {"type": "rule", "color": "black", "strokeWidth": 1},
"encoding": {
"x": {"field": "d", "type": "temporal",
  "axis": {"orient": "top", "title": null, "labels": false, "domain": false,
    "values": [{"year":2020,"month":5,"date":11,"utc":true},{"year":2020,"month":5,"date":21,"utc":true},{"year":2020,"month":6,"date":1,"utc":true},{"year":2020,"month":6,"date":11,"utc":true},{"year":2020,"month":6,"date":21,"utc":true},{"year":2020,"month":7,"date":1,"utc":true},{"year":2020,"month":7,"date":11,"utc":true},{"year":2020,"month":7,"date":21,"utc":true},{"year":2020,"month":8,"date":1,"utc":true},{"year":2020,"month":8,"date":11,"utc":true},{"year":2020,"month":8,"date":21,"utc":true},{"year":2020,"month":9,"date":1,"utc":true},{"year":2020,"month":9,"date":11,"utc":true},{"year":2020,"month":9,"date":21,"utc":true},{"year":2020,"month":10,"date":1,"utc":true}],
    "tickSize": {"condition": {"test": "utcdate(datum.value) == 1", "value": 9}, "value": 5}}},
"y": {"datum": 0, "type": "quantitative",
  "axis": {"orient": "right", "title": null, "labels": false, "domain": false, "tickSize": 8,
    "values": [0, 500000000, 1000000000, 1500000000, 2000000000, 2500000000, 3000000000]}},
"y2": {"datum": 3061000000}
}
},
{
"data": {"name": "events"},
"mark": {"type": "text", "fontSize": 16, "font": "DejaVu Sans", "baseline": "middle", "align": "center", "color": "black"},
"encoding": {
"x": {"field": "d", "type": "temporal", "axis": null},
"y": {"datum": 3119000000, "type": "quantitative", "axis": null},
"text": {"field": "l"}
}
}
]
}
